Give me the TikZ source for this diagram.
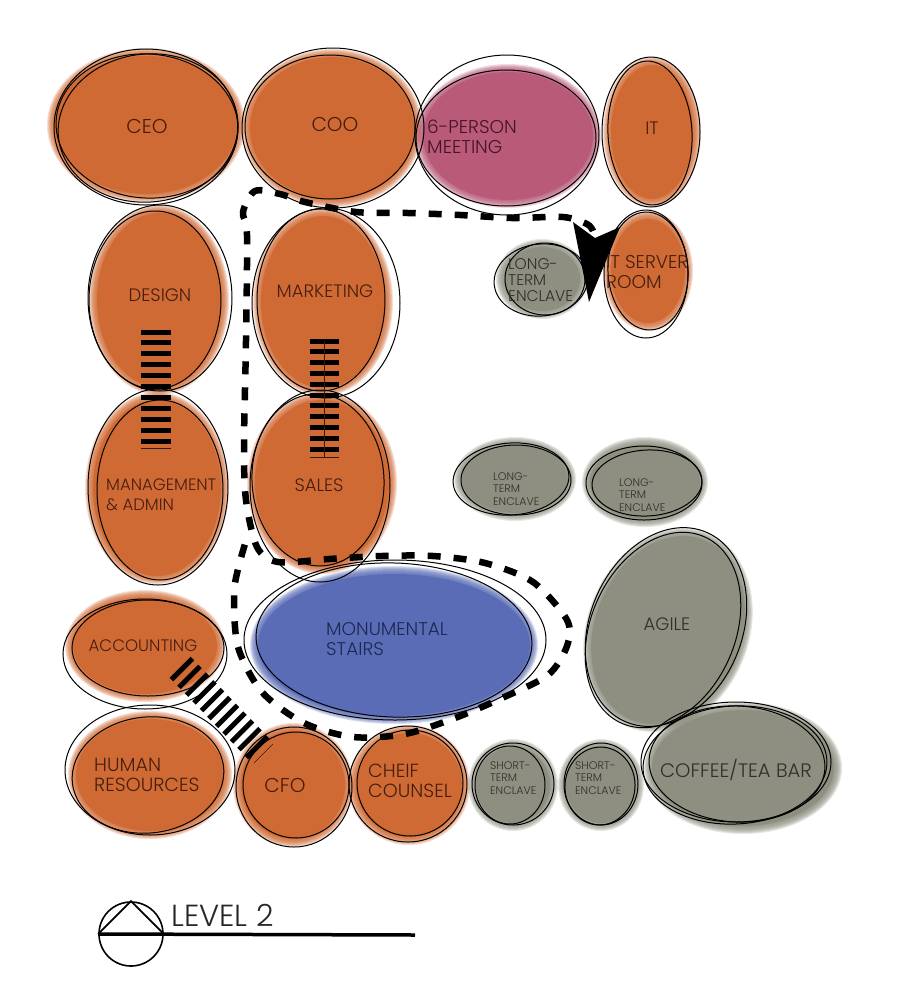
\documentclass[tikz,border=0pt]{standalone}
\usepackage{fontspec}
\setmainfont{Poppins}[UprightFont=* Light]
\usetikzlibrary{calc,shapes.geometric}
\definecolor{deskorange}{RGB}{208,106,52}
\definecolor{meetpink}{RGB}{184,90,120}
\definecolor{stairblue}{RGB}{90,108,182}
\definecolor{enclavegrey}{RGB}{142,143,128}
\definecolor{inkbrown}{RGB}{70,30,15}
\definecolor{inkgrey}{RGB}{48,48,40}
\definecolor{inkblue}{RGB}{30,40,85}
\definecolor{inkplum}{RGB}{70,20,40}
% soft edge fill: color, x, y, x radius, y radius, rotation
\newcommand{\softfill}[6]{
 \foreach \g in {5,4,3,2,1,0,-1,-2}
  \fill[#1,opacity=.22] (#2,#3) ellipse [x radius={#4+\g},y radius={#5+\g},rotate=#6];
 \fill[#1] (#2,#3) ellipse [x radius={#4-3},y radius={#5-3},rotate=#6];
}
% treads between two named points
\newcommand{\stairrun}[4]{
 \foreach \t in {0,...,10}
  \draw[tread] ($(#1)!{\t/10}!(#2)+(#3,#4)$) -- ($(#1)!{\t/10}!(#2)-(#3,#4)$);
}
\begin{document}
\begin{tikzpicture}[x=1pt,y=-1pt,
 sketch/.style={draw=black,line width=1pt},
 tread/.style={draw=black,line width=5pt},
 hairline/.style={draw=black!75!deskorange,line width=.6pt},
 route/.style={draw=black,line width=6.5pt,dash pattern=on 13pt off 13pt},
 lab/.style={inner sep=0pt,align=left,font=\fontsize{#1}{20}\selectfont},
 lab/.default=18,
 labsmall/.style={inner sep=0pt,align=left,font=\fontsize{15.5}{16}\selectfont},
 labtiny/.style={inner sep=0pt,align=left,font=\fontsize{11}{12.5}\selectfont}]
\useasboundingbox (0,0) rectangle (909,1005);
% fills
\softfill{deskorange}{146}{125}{94}{72}{0}
\softfill{deskorange}{332}{128}{85}{74}{0}
\softfill{meetpink}{508}{136}{88}{67}{0}
\softfill{deskorange}{652}{132}{44}{70}{0}
\softfill{deskorange}{159}{300}{65}{90}{0}
\softfill{deskorange}{323}{302}{65}{89}{0}
\softfill{enclavegrey}{542}{279}{41}{35}{0}
\softfill{deskorange}{648}{271}{40}{55}{0}
\softfill{deskorange}{157}{488}{67}{91}{0}
\softfill{deskorange}{322}{483}{70}{86}{0}
\softfill{enclavegrey}{515}{479}{56}{37}{0}
\softfill{enclavegrey}{645}{482}{58}{40}{0}
\softfill{enclavegrey}{668}{630}{76}{100}{-22}
\softfill{stairblue}{394}{645}{139}{74}{0}
\softfill{deskorange}{145}{646}{75}{51}{0}
\softfill{deskorange}{150}{775}{77}{59}{0}
\softfill{deskorange}{293}{785}{55}{57}{0}
\softfill{deskorange}{409}{785}{56}{55}{0}
\softfill{enclavegrey}{513}{785}{40}{41}{0}
\softfill{enclavegrey}{601}{785}{38}{41}{0}
\softfill{enclavegrey}{743}{768}{94}{61}{0}
% sketched outlines
\begin{scope}[sketch]
\draw (146,127) ellipse [x radius=92,y radius=78];
\draw (147,126) ellipse [x radius=91,y radius=72,rotate=-4];
\draw (148,128) ellipse [x radius=90,y radius=74,rotate=6];
\draw (333,128) ellipse [x radius=91,y radius=80];
\draw (330,127) ellipse [x radius=85,y radius=72];
\draw (507,135) ellipse [x radius=92,y radius=80];
\draw (506,138) ellipse [x radius=90,y radius=68];
\draw (651,132) ellipse [x radius=49,y radius=75];
\draw (650,133) ellipse [x radius=42,y radius=72,rotate=3];
\draw (160,298) ellipse [x radius=72,y radius=93];
\draw (155,300) ellipse [x radius=66,y radius=89];
\draw (326,303) ellipse [x radius=74,y radius=95];
\draw (321,300) ellipse [x radius=64,y radius=91];
\draw (541,280) ellipse [x radius=47,y radius=36,rotate=6];
\draw (545,279) ellipse [x radius=40,y radius=36];
\draw (646,274) ellipse [x radius=42,y radius=64];
\draw (648,271) ellipse [x radius=40,y radius=59,rotate=3];
\draw (158,487) ellipse [x radius=70,y radius=98];
\draw (160,490) ellipse [x radius=63,y radius=90];
\draw (320,486) ellipse [x radius=70,y radius=96];
\draw (318,480) ellipse [x radius=66,y radius=86,rotate=3];
\draw (511,479) ellipse [x radius=58,y radius=36,rotate=4];
\draw (516,480) ellipse [x radius=55,y radius=35];
\draw (644,483) ellipse [x radius=58,y radius=37];
\draw (647,483) ellipse [x radius=55,y radius=33,rotate=3];
\draw (666,627) ellipse [x radius=76,y radius=103,rotate=-23];
\draw (663,630) ellipse [x radius=72,y radius=102,rotate=-24];
\draw (395,640) ellipse [x radius=151,y radius=80];
\draw (394,640) ellipse [x radius=138,y radius=77,rotate=-2];
\draw (145,654) ellipse [x radius=82,y radius=55];
\draw (148,648) ellipse [x radius=76,y radius=48];
\draw (150,770) ellipse [x radius=85,y radius=65];
\draw (148,775) ellipse [x radius=76,y radius=58,rotate=6];
\draw (294,787) ellipse [x radius=58,y radius=60];
\draw (296,785) ellipse [x radius=53,y radius=53];
\draw (408,784) ellipse [x radius=59,y radius=58];
\draw (410,783) ellipse [x radius=53,y radius=53];
\draw (513,784) ellipse [x radius=41,y radius=41];
\draw (510,785) ellipse [x radius=35,y radius=39];
\draw (601,784) ellipse [x radius=37,y radius=41];
\draw (600,786) ellipse [x radius=35,y radius=39,rotate=-5];
\draw (736,762) ellipse [x radius=95,y radius=60];
\draw (735,765) ellipse [x radius=92,y radius=59,rotate=3];
\draw (737,764) ellipse [x radius=88,y radius=58,rotate=-3];
\end{scope}
% stair runs
\coordinate (designtop) at (156,332);
\coordinate (adminbot) at (156,441);
\coordinate (marketingtop) at (324.5,341);
\coordinate (salesbot) at (324.5,449);
\coordinate (accountingtop) at (182,669);
\coordinate (cfotop) at (257,747);
\stairrun{designtop}{adminbot}{15}{0}
\stairrun{marketingtop}{salesbot}{14.5}{0}
\stairrun{accountingtop}{cfotop}{10.5}{-10.5}
\draw[hairline] ($(adminbot)+(-15,7)$) -- ($(adminbot)+(15,7)$);
\draw[hairline] ($(salesbot)+(-14.5,8)$) -- ($(salesbot)+(14.5,8)$);
\draw[hairline] (marketingtop) -- ($(salesbot)+(0,8)$);
\draw[hairline] ($(cfotop)+(-3,16)$) -- ($(cfotop)+(16,-3)$);
% circulation
\draw[route] plot[smooth,tension=.5] coordinates {(593,231) (587,224) (563,217) (512,218) (460,215) (408,213) (356,212) (305,202) (280,194) (255,191) (243,212) (247,235) (246,341) (244,445) (246,500) (257,547) (278,562) (329,559) (382,556) (433,556) (485,563) (533,582) (567,620) (567,646) (548,675) (502,698) (455,718) (405,734) (353,737) (304,723) (262,692) (238,647) (234,595) (238,569) (245,544)};
\coordinate (routeleft) at (573,222);
\coordinate (routenotch) at (595,238);
\coordinate (routeright) at (620,227);
\coordinate (routetip) at (589,302);
\fill[black] (routeleft) -- (routenotch) -- (routeright) -- (routetip) -- cycle;
% labels
\node[lab=20,text=inkbrown] (ceo) at (147,126) {CEO};
\node[lab=20,text=inkbrown] (coo) at (335,124) {COO};
\node[lab=18.5,text=inkplum,anchor=west] (meeting) at (427,137) {6-PERSON\\MEETING};
\node[lab,text=inkbrown] (it) at (652,128) {IT};
\node[lab,text=inkbrown] (design) at (160,295) {DESIGN};
\node[lab,text=inkbrown] (marketing) at (325,291) {MARKETING};
\node[labsmall,text=inkgrey,anchor=west] (enclavea) at (508,280) {LONG-\\TERM\\ENCLAVE};
\node[lab=18.5,text=inkbrown,anchor=west] (server) at (606,272) {IT SERVER\\ROOM};
\node[lab=16.5,text=inkbrown,anchor=west] (admin) at (106,495) {MANAGEMENT\\\& ADMIN};
\node[lab,text=inkbrown] (sales) at (319,485) {SALES};
\node[labtiny,text=inkgrey,anchor=west] (enclaveb) at (493,489) {LONG-\\TERM\\ENCLAVE};
\node[labtiny,text=inkgrey,anchor=west] (enclavec) at (619,495) {LONG-\\TERM\\ENCLAVE};
\node[lab,text=inkgrey] (agile) at (667,624) {AGILE};
\node[lab=18.4,text=inkblue,anchor=west] (stairs) at (326,639) {MONUMENTAL\\STAIRS};
\node[lab=16.6,text=inkbrown] (accounting) at (143,646) {ACCOUNTING};
\node[lab=19,text=inkbrown,anchor=west] (hr) at (94,775) {HUMAN\\RESOURCES};
\node[lab=20,text=inkbrown] (cfo) at (285,785) {CFO};
\node[lab=19,text=inkbrown,anchor=west] (counsel) at (368,781) {CHEIF\\COUNSEL};
\node[labtiny,text=inkgrey,anchor=west] (shorta) at (490,778) {SHORT-\\TERM\\ENCLAVE};
\node[labtiny,text=inkgrey,anchor=west] (shortb) at (575,778) {SHORT-\\TERM\\ENCLAVE};
\node[lab=19.5,text=inkgrey] (coffee) at (736,770) {COFFEE/TEA BAR};
% level mark
\node[circle,draw=black,line width=1.6pt,minimum size=64pt,inner sep=0pt] (levelmark) at (131,934) {};
\coordinate (levelend) at (415,935);
\draw[black,line width=1.8pt] (levelmark.west) -- (levelmark.north) -- (levelmark.east);
\draw[black,line width=3.5pt] (levelmark.west) -- (levelend);
\node[inner sep=0pt,text=black!85,font=\fontsize{30.5}{32}\selectfont,anchor=base west] (leveltext) at (171,926) {LEVEL 2};
\end{tikzpicture}
\end{document}
